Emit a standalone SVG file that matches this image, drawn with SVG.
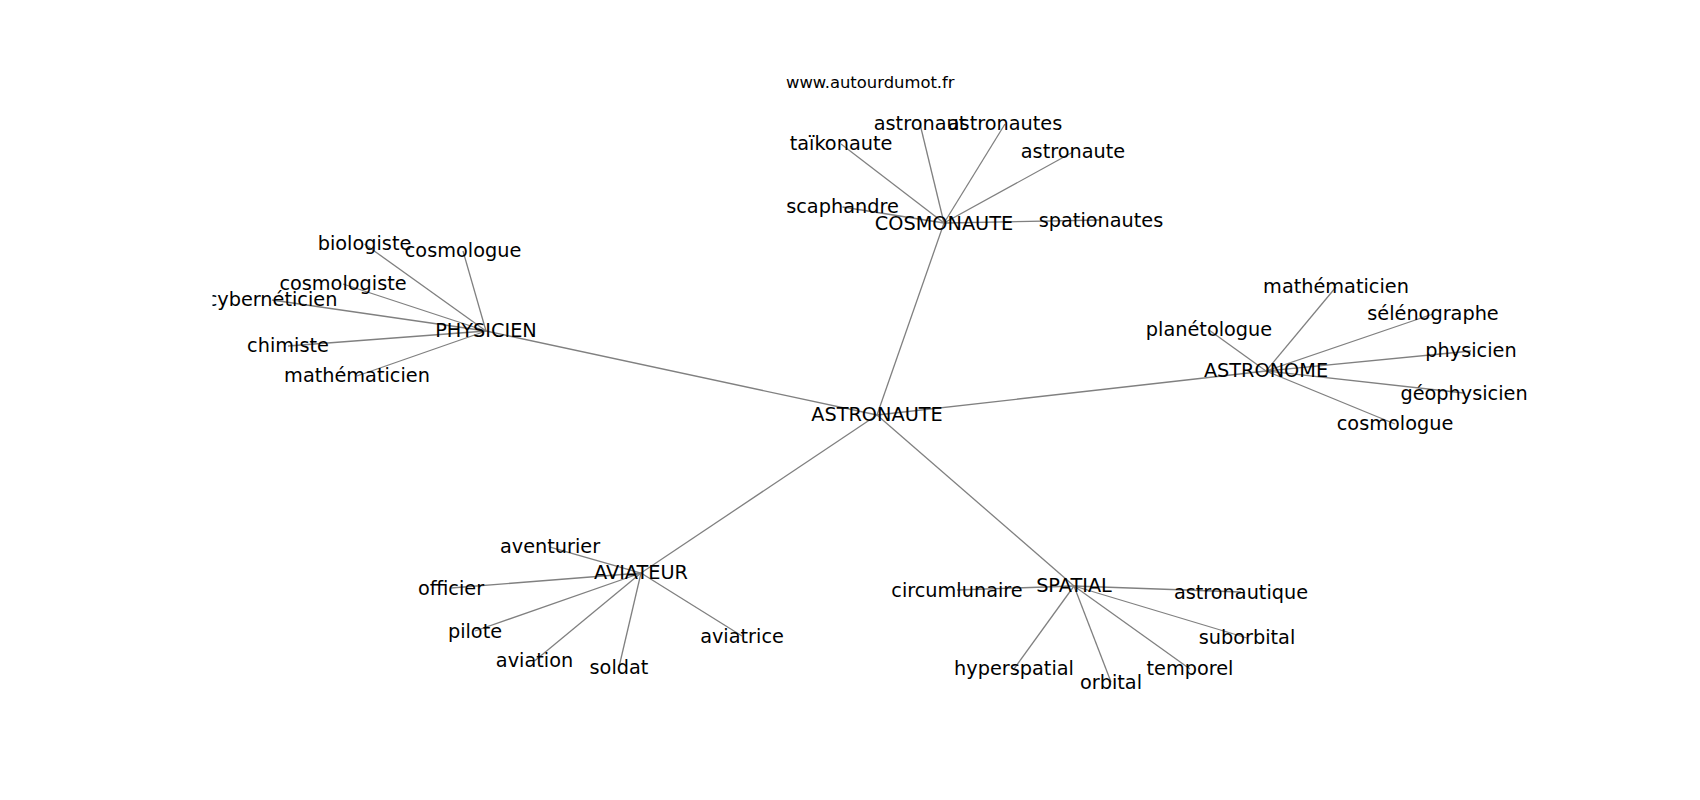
<svg xmlns="http://www.w3.org/2000/svg" width="1700" height="800" viewBox="0 0 1700 800">
<style>
.lbl{font-family:"DejaVu Sans","Liberation Sans",sans-serif;font-size:19.3px;fill:#000;text-anchor:middle}
.title{font-family:"DejaVu Sans","Liberation Sans",sans-serif;font-size:16.4px;fill:#000}
#edges line{stroke:#808080;stroke-width:1.3;fill:none}
</style>
<defs>
<clipPath id="ax"><rect x="212.5" y="96" width="1317.5" height="616"/></clipPath>
</defs>
<rect width="1700" height="800" fill="#fff"/>
<text class="title" x="786" y="88">www.autourdumot.fr</text>
<g clip-path="url(#ax)">
<g id="edges">
<line x1="877" y1="415" x2="944" y2="223"/>
<line x1="877" y1="415" x2="486" y2="331"/>
<line x1="877" y1="415" x2="1266" y2="371"/>
<line x1="877" y1="415" x2="641" y2="573"/>
<line x1="877" y1="415" x2="1074" y2="586"/>
<line x1="486" y1="331" x2="364.5" y2="244"/>
<line x1="486" y1="331" x2="463" y2="251"/>
<line x1="486" y1="331" x2="343" y2="284"/>
<line x1="486" y1="331" x2="272" y2="300"/>
<line x1="486" y1="331" x2="288" y2="346"/>
<line x1="486" y1="331" x2="357" y2="376"/>
<line x1="944" y1="223" x2="841" y2="144"/>
<line x1="944" y1="223" x2="920" y2="124"/>
<line x1="944" y1="223" x2="1005" y2="124"/>
<line x1="944" y1="223" x2="1073" y2="152"/>
<line x1="944" y1="223" x2="842.5" y2="207"/>
<line x1="944" y1="223" x2="1101" y2="220"/>
<line x1="1266" y1="371" x2="1336" y2="287"/>
<line x1="1266" y1="371" x2="1209" y2="330"/>
<line x1="1266" y1="371" x2="1433" y2="314"/>
<line x1="1266" y1="371" x2="1471" y2="351"/>
<line x1="1266" y1="371" x2="1464" y2="393"/>
<line x1="1266" y1="371" x2="1395" y2="424"/>
<line x1="641" y1="573" x2="550" y2="547"/>
<line x1="641" y1="573" x2="451" y2="588"/>
<line x1="641" y1="573" x2="475" y2="631"/>
<line x1="641" y1="573" x2="534.5" y2="661"/>
<line x1="641" y1="573" x2="619" y2="667"/>
<line x1="641" y1="573" x2="742" y2="636"/>
<line x1="1074" y1="586" x2="957" y2="590"/>
<line x1="1074" y1="586" x2="1241" y2="592"/>
<line x1="1074" y1="586" x2="1247" y2="638"/>
<line x1="1074" y1="586" x2="1014" y2="669"/>
<line x1="1074" y1="586" x2="1111" y2="682"/>
<line x1="1074" y1="586" x2="1190" y2="669"/>
</g>
<g id="n_astronaute"><text class="lbl" x="877" y="421">ASTRONAUTE</text></g>
<g id="n_physicien"><text class="lbl" x="486" y="337">PHYSICIEN</text></g>
<g id="n_cosmonaute"><text class="lbl" x="944" y="230">COSMONAUTE</text></g>
<g id="n_astronome"><text class="lbl" x="1266" y="377">ASTRONOME</text></g>
<g id="n_aviateur"><text class="lbl" x="641" y="579">AVIATEUR</text></g>
<g id="n_spatial"><text class="lbl" x="1074" y="592">SPATIAL</text></g>
<g id="n_biologiste"><text class="lbl" x="364.5" y="250">biologiste</text></g>
<g id="n_cosmologue_p"><text class="lbl" x="463" y="257">cosmologue</text></g>
<g id="n_cosmologiste"><text class="lbl" x="343" y="290">cosmologiste</text></g>
<g id="n_cyberneticien"><text class="lbl" x="272" y="306">cybernéticien</text></g>
<g id="n_chimiste"><text class="lbl" x="288" y="352">chimiste</text></g>
<g id="n_mathematicien_p"><text class="lbl" x="357" y="382">mathématicien</text></g>
<g id="n_taikonaute"><text class="lbl" x="841" y="150">taïkonaute</text></g>
<g id="n_astronaut"><text class="lbl" x="920" y="130">astronaut</text></g>
<g id="n_astronautes"><text class="lbl" x="1005" y="130">astronautes</text></g>
<g id="n_astronaute2"><text class="lbl" x="1073" y="158">astronaute</text></g>
<g id="n_scaphandre"><text class="lbl" x="842.5" y="213">scaphandre</text></g>
<g id="n_spationautes"><text class="lbl" x="1101" y="227">spationautes</text></g>
<g id="n_mathematicien_a"><text class="lbl" x="1336" y="293">mathématicien</text></g>
<g id="n_planetologue"><text class="lbl" x="1209" y="336">planétologue</text></g>
<g id="n_selenographe"><text class="lbl" x="1433" y="320">sélénographe</text></g>
<g id="n_physicien2"><text class="lbl" x="1471" y="357">physicien</text></g>
<g id="n_geophysicien"><text class="lbl" x="1464" y="400">géophysicien</text></g>
<g id="n_cosmologue_a"><text class="lbl" x="1395" y="430">cosmologue</text></g>
<g id="n_aventurier"><text class="lbl" x="550" y="553">aventurier</text></g>
<g id="n_officier"><text class="lbl" x="451" y="595">officier</text></g>
<g id="n_pilote"><text class="lbl" x="475" y="638">pilote</text></g>
<g id="n_aviation"><text class="lbl" x="534.5" y="667">aviation</text></g>
<g id="n_soldat"><text class="lbl" x="619" y="674">soldat</text></g>
<g id="n_aviatrice"><text class="lbl" x="742" y="643">aviatrice</text></g>
<g id="n_circumlunaire"><text class="lbl" x="957" y="597">circumlunaire</text></g>
<g id="n_astronautique"><text class="lbl" x="1241" y="599">astronautique</text></g>
<g id="n_suborbital"><text class="lbl" x="1247" y="644">suborbital</text></g>
<g id="n_hyperspatial"><text class="lbl" x="1014" y="675">hyperspatial</text></g>
<g id="n_orbital"><text class="lbl" x="1111" y="689">orbital</text></g>
<g id="n_temporel"><text class="lbl" x="1190" y="675">temporel</text></g>
</g>
</svg>
